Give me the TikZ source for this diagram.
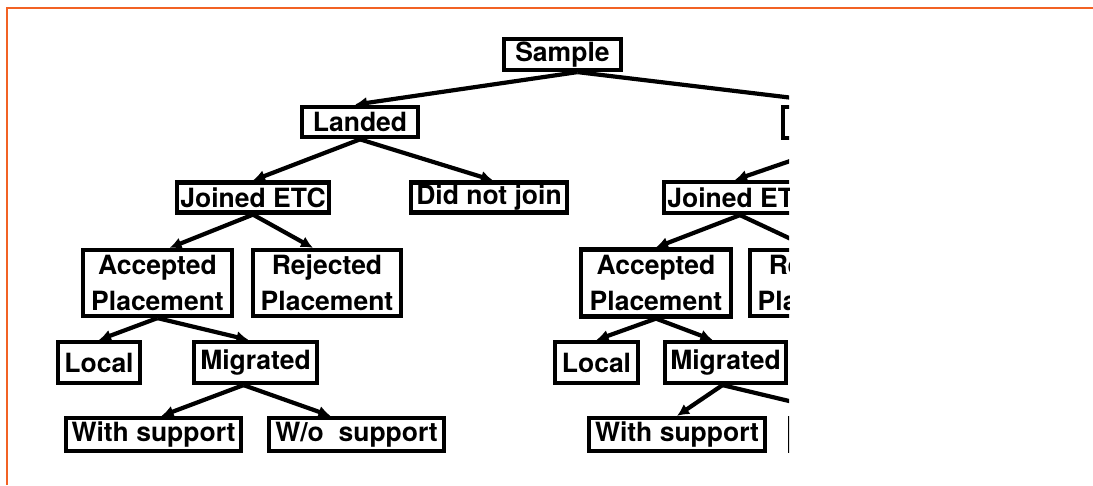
\documentclass[tikz,border=0pt]{standalone}
\usepackage{fontspec}
\setmainfont{TeX Gyre Heros}
\usepackage{xcolor}
\usetikzlibrary{arrows.meta, positioning}
\definecolor{frameorange}{RGB}{242,98,36}
\tikzset{> = { Latex[length = 12pt, width = 12pt] }}

\begin{document}
\begin{tikzpicture}[x = 1pt, y = -1pt, line width = 4.2pt,
		box/.style = { draw, inner sep = 0pt, align = center, font = \fontsize{26.5}{36}\selectfont\bfseries }]
		\useasboundingbox (0,0) rectangle (1093,485);
		\draw[frameorange, line width = 2.5pt] (7,485) -- (7,8) -- (1093,8);

		\begin{scope}
		\clip (0,0) rectangle (789,485);
		\node [box, minimum width = 117,   minimum height = 31]   (sample)   at (562.5,54.5) {Sample};
		\node [box, minimum width = 116.5, minimum height = 30.5] (landed)   at (360,122)    {Landed};
		\node [box, minimum width = 135.5, minimum height = 31]   (nolanded) at (851,122.5)  {};

		\node [box, minimum width = 152,   minimum height = 30]   (joinedL)  at (253,197.5)  {Joined ETC};
		\node [box, minimum width = 156,   minimum height = 30]   (notjoin)  at (489,197.5)  {Did not join};
		\node [box, minimum width = 152,   minimum height = 31]   (joinedR)  at (740,197.5)  {Joined ETC};

		\node [box, minimum width = 149,   minimum height = 66]   (accL)     at (157.5,283)  {Accepted\\Placement};
		\node [box, minimum width = 148,   minimum height = 66]   (rejL)     at (327,283)    {Rejected\\Placement};
		\node [box, minimum width = 150,   minimum height = 67]   (accR)     at (656,283)    {Accepted\\Placement};
		\node [box, minimum width = 148,   minimum height = 66]   (rejR)     at (824,283)    {Rejected\\Placement};

		\node [box, minimum width = 82,    minimum height = 41]   (localL)   at (99,362.5)   {Local};
		\node [box, minimum width = 123,   minimum height = 41]   (migL)     at (255.5,362.5) {Migrated};
		\node [box, minimum width = 83,    minimum height = 41]   (localR)   at (596.5,362.5) {Local};
		\node [box, minimum width = 121,   minimum height = 41]   (migR)     at (725.5,362.5) {Migrated};

		\node [box, minimum width = 175,   minimum height = 33]   (withL)    at (153.5,434.5) {With support};
		\node [box, minimum width = 175,   minimum height = 33]   (woL)      at (356.5,434.5) {W/o\ \ support};
		\node [box, minimum width = 176,   minimum height = 33]   (withR)    at (677,434.5)   {With support};
		\node [box, minimum width = 175,   minimum height = 33]   (woR)      at (877.5,434.5) {};

		\draw[->] ([xshift = 15pt]sample.south) -- ([xshift = -5pt]landed.north);
		\draw[->] ([xshift = 15pt]sample.south) -- (nolanded.north);

		\draw[->] (landed.south) -- (joinedL.north);
		\draw[->] (landed.south) -- ([xshift = 4pt]notjoin.north);
		\draw[->] (nolanded.south) -- ([xshift = -5pt]joinedR.north);

		\draw[->] (joinedL.south) -- ([xshift = 12pt]accL.north);
		\draw[->] (joinedL.south) -- ([xshift = -14pt]rejL.north);
		\draw[->] (joinedR.south) -- (accR.north);
		\draw[->] (joinedR.south) -- ([xshift = -14pt]rejR.north);

		\draw[->] (accL.south) -- (localL.north);
		\draw[->] (accL.south) -- ([xshift = -7pt]migL.north);
		\draw[->] (accR.south) -- (localR.north);
		\draw[->] (accR.south) -- ([xshift = -13pt]migR.north);

		\draw[->] ([xshift = -12pt]migL.south) -- ([xshift = 8pt]withL.north);
		\draw[->] ([xshift = -12pt]migL.south) -- ([xshift = -26pt]woL.north);
		\draw[->] ([xshift = -3pt]migR.south) -- (withR.north);
		\draw[->] ([xshift = -3pt]migR.south) -- ([xshift = -26pt]woR.north);
		\end{scope}
	\end{tikzpicture}
\end{document}
